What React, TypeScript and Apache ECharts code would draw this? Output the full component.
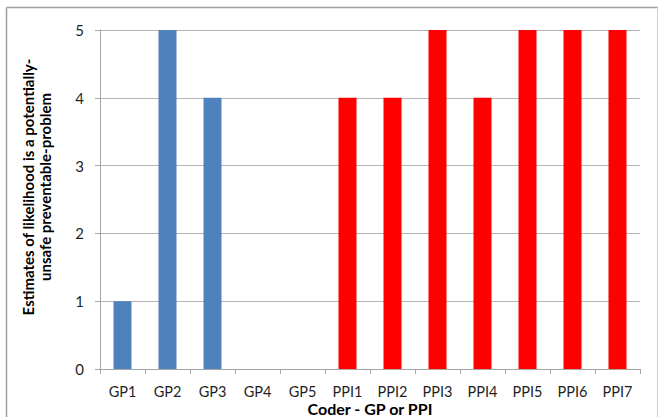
import React, { useEffect, useRef } from "react";
import * as echarts from "echarts";

const gpCoders = ["GP1", "GP2", "GP3", "GP4", "GP5"];
const gpValues = [1, 5, 4, 0, 0];
const ppiCoders = ["PPI1", "PPI2", "PPI3", "PPI4", "PPI5", "PPI6", "PPI7"];
const ppiValues = [4, 4, 5, 4, 5, 5, 5];
const yTicks = [0, 1, 2, 3, 4, 5];

const GP_COLOR = "#4f81bd";
const PPI_COLOR = "#ff0000";
const FONT = "Lato, 'Liberation Sans', sans-serif";

export default function App() {
  const ref = useRef<HTMLDivElement>(null);
  useEffect(() => {
    if (!ref.current) return;
    const chart = echarts.init(ref.current, undefined, { renderer: "svg" });
    const categories = [...gpCoders, ...ppiCoders];
    const data = [
      ...gpValues.map((v) => ({ value: v, itemStyle: { color: GP_COLOR } })),
      ...ppiValues.map((v) => ({ value: v, itemStyle: { color: PPI_COLOR } })),
    ];
    chart.setOption({
      animation: false,
      backgroundColor: "#ffffff",
      grid: { left: 100, right: 19, top: 30, bottom: 48, outerBoundsMode: "none" },
      graphic: [
        { type: "line", shape: { x1: 6.5, y1: 7.5, x2: 658, y2: 7.5 }, style: { stroke: "#a0a0a0", lineWidth: 1.5 } },
        { type: "line", shape: { x1: 6.5, y1: 7.5, x2: 6.5, y2: 417 }, style: { stroke: "#a0a0a0", lineWidth: 1.5 } },
        { type: "line", shape: { x1: 657.5, y1: 7.5, x2: 657.5, y2: 417 }, style: { stroke: "#d0d0d0", lineWidth: 1 } },
        {
          type: "text",
          x: 36,
          y: 187,
          rotation: Math.PI / 2,
          style: {
            text: "Estimates of likelihood is a potentially-\nunsafe preventable-problem",
            font: "bold 15px " + FONT,
            fill: "#000000",
            align: "center",
            verticalAlign: "middle",
            lineHeight: 17,
          },
        },
      ],
      xAxis: {
        type: "category",
        data: categories,
        name: "Coder - GP or PPI",
        nameLocation: "middle",
        nameGap: 32,
        nameMoveOverlap: false,
        nameTextStyle: { fontFamily: FONT, fontWeight: "bold", fontSize: 16, lineHeight: 14, color: "#000" },
        axisLine: { lineStyle: { color: "#a6a6a6" } },
        axisTick: { show: true, length: 5, lineStyle: { color: "#a6a6a6" } },
        axisLabel: { fontFamily: FONT, fontSize: 14.5, lineHeight: 12, color: "#1f1f1f", margin: 16, interval: 0 },
      },
      yAxis: {
        type: "value",
        min: yTicks[0],
        max: yTicks[yTicks.length - 1],
        interval: 1,
        axisLine: { show: true, lineStyle: { color: "#a6a6a6" } },
        axisTick: { show: true, length: 5, lineStyle: { color: "#a6a6a6" } },
        axisLabel: { fontFamily: FONT, fontSize: 15, color: "#1f1f1f", margin: 16 },
        splitLine: { lineStyle: { color: "#b3b3b3" } },
      },
      series: [
        {
          type: "bar",
          data,
          barWidth: "40%",
        },
      ],
    });
    return () => chart.dispose();
  }, []);
  return <div ref={ref} style={{ position: "absolute", left: 0, top: 0, width: 659, height: 417 }} />;
}
